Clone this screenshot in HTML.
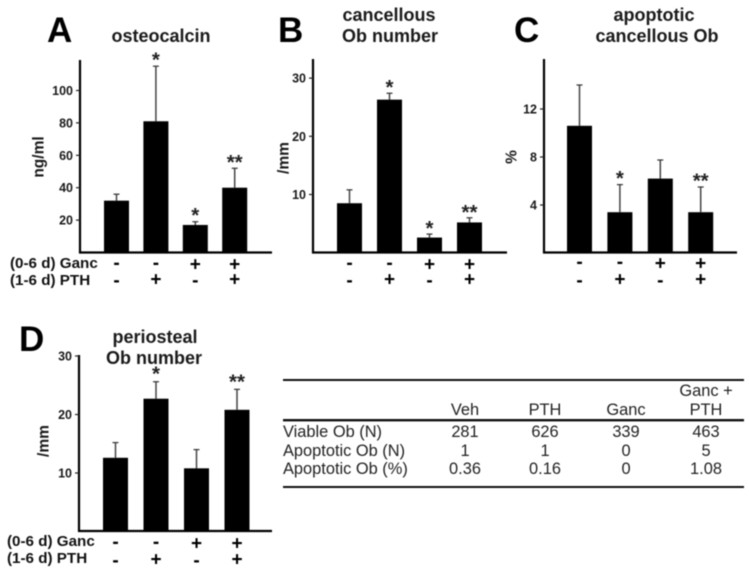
<!DOCTYPE html>
<html lang="en">
<head>
<meta charset="utf-8">
<title>Osteoblast bar charts</title>
<style>
html,body{margin:0;padding:0;background:#fff;width:749px;height:572px;overflow:hidden}
svg{display:block;filter:blur(0.5px)}
text{font-family:"Liberation Sans",Arial,sans-serif;fill:#111}
.letter{font-size:35px;font-weight:bold;fill:#000}
.title{font-size:18px;font-weight:bold;text-anchor:middle;fill:#1a1a1a}
.tick{font-size:12.5px;font-weight:bold;text-anchor:end;fill:#1a1a1a}
.ytitle{font-size:15.5px;font-weight:bold;text-anchor:middle;fill:#1a1a1a}
.group{font-size:15.2px;font-weight:bold;fill:#111}
.sign{font-size:19px;font-weight:bold;text-anchor:middle;fill:#000}
.star{font-size:20.5px;font-weight:bold;text-anchor:middle;fill:#222}
.t{font-size:16.4px;fill:#222;text-anchor:middle}
.tl{font-size:16.4px;fill:#222}
</style>
</head>
<body>
<svg id="figure" width="749" height="572" viewBox="0 0 749 572" xmlns="http://www.w3.org/2000/svg">
  <rect width="749" height="572" fill="#fff"/>

  <text class="letter" x="47" y="42">A</text>
  <text class="letter" x="278" y="42">B</text>
  <text class="letter" x="514" y="42">C</text>
  <text class="letter" x="19" y="351">D</text>

  <text class="title" x="161" y="42">osteocalcin</text>
  <text class="title" x="389" y="21">cancellous</text>
  <text class="title" x="390" y="42">Ob number</text>
  <text class="title" x="654" y="21">apoptotic</text>
  <text class="title" x="657" y="42">cancellous Ob</text>
  <text class="title" x="155" y="343">periosteal</text>
  <text class="title" x="154" y="364">Ob number</text>

  <text class="ytitle" transform="translate(43.5,157) rotate(-90)">ng/ml</text>
  <text class="ytitle" transform="translate(288.5,158) rotate(-90)">/mm</text>
  <text class="ytitle" transform="translate(516.5,157) rotate(-90)">%</text>
  <text class="ytitle" transform="translate(48.5,441) rotate(-90)">/mm</text>

  <text class="group" x="10" y="268">(0-6 d) Ganc</text>
  <text class="group" x="10" y="285">(1-6 d) PTH</text>
  <text class="group" x="7" y="546">(0-6 d) Ganc</text>
  <text class="group" x="7" y="563">(1-6 d) PTH</text>

  <g id="charts"></g>

  <g>
    <rect x="283" y="379" width="461" height="2" fill="#111"/>
    <rect x="283" y="419" width="461" height="2.4" fill="#111"/>
    <rect x="283" y="486" width="461" height="2" fill="#111"/>
    <text class="t" x="706" y="396">Ganc +</text>
    <text class="t" x="465" y="415">Veh</text>
    <text class="t" x="545" y="415">PTH</text>
    <text class="t" x="626" y="415">Ganc</text>
    <text class="t" x="706" y="415">PTH</text>
    <text class="tl" x="283" y="437">Viable Ob (N)</text>
    <text class="t" x="465" y="437">281</text>
    <text class="t" x="545" y="437">626</text>
    <text class="t" x="626" y="437">339</text>
    <text class="t" x="706" y="437">463</text>
    <text class="tl" x="283" y="456">Apoptotic Ob (N)</text>
    <text class="t" x="465" y="456">1</text>
    <text class="t" x="545" y="456">1</text>
    <text class="t" x="626" y="456">0</text>
    <text class="t" x="706" y="456">5</text>
    <text class="tl" x="283" y="474">Apoptotic Ob (%)</text>
    <text class="t" x="465" y="474">0.36</text>
    <text class="t" x="545" y="474">0.16</text>
    <text class="t" x="626" y="474">0</text>
    <text class="t" x="706" y="474">1.08</text>
  </g>
</svg>
<script>
// Shared categories
const gancSigns = ['-', '-', '+', '+'];
const pthSigns = ['-', '+', '-', '+'];

// Panel A: osteocalcin (ng/ml)
const osteocalcinValues = [32, 81, 17, 40];
const osteocalcinErrorTops = [36, 115, 19, 52];
const osteocalcinStars = ['', '*', '*', '**'];
const osteocalcinTicks = [20, 40, 60, 80, 100];

// Panel B: cancellous Ob number (/mm)
const cancellousValues = [8.5, 26.3, 2.6, 5.2];
const cancellousErrorTops = [10.8, 27.4, 3.2, 6];
const cancellousStars = ['', '*', '*', '**'];
const cancellousTicks = [10, 20, 30];

// Panel C: apoptotic cancellous Ob (%)
const apoptoticValues = [10.6, 3.4, 6.2, 3.4];
const apoptoticErrorTops = [14, 5.7, 7.75, 5.5];
const apoptoticStars = ['', '*', '', '**'];
const apoptoticTicks = [4, 8, 12];

// Panel D: periosteal Ob number (/mm)
const periostealValues = [12.6, 22.7, 10.8, 20.8];
const periostealErrorTops = [15.2, 25.6, 14, 24.3];
const periostealStars = ['', '*', '', '**'];
const periostealTicks = [10, 20, 30];

const NS = 'http://www.w3.org/2000/svg';
const root = document.getElementById('charts');

function make(tag, parent, attrs, text) {
  const el = document.createElementNS(NS, tag);
  for (const k in attrs) el.setAttribute(k, attrs[k]);
  if (text !== undefined) el.textContent = text;
  parent.appendChild(el);
  return el;
}

function drawPanel(panel, values, errorTops, stars, ticks, frame) {
  const y = v => frame.zero - v * frame.unit;
  const x = i => frame.first + i * frame.step;

  const g = make('g', root, {});
  
  

  const yAxis = make('line', g, {x1: frame.axis, x2: frame.axis, y1: frame.top, y2: frame.base + 1, stroke: '#000', 'stroke-width': 2.2});
  
  

  const xAxis = make('line', g, {x1: frame.axis - 1, x2: frame.end, y1: frame.base, y2: frame.base, stroke: '#000', 'stroke-width': 2.2});
  
  

  ticks.forEach(t => {
    const mark = make('line', g, {x1: frame.axis - 4, x2: frame.axis, y1: y(t), y2: y(t), stroke: '#222', 'stroke-width': 1.2});
    
    
    const label = make('text', g, {class: 'tick', x: frame.axis - 7, y: y(t) + 4.5}, String(t));
    
    
  });

  values.forEach((v, i) => {
    const stem = make('line', g, {x1: x(i), x2: x(i), y1: y(errorTops[i]), y2: y(v), stroke: '#444', 'stroke-width': 1.5});
    
    
    const cap = make('line', g, {x1: x(i) - 3, x2: x(i) + 3, y1: y(errorTops[i]), y2: y(errorTops[i]), stroke: '#333', 'stroke-width': 1.2});
    
    
    const bar = make('rect', g, {x: x(i) - 12.5, y: y(v), width: 25, height: frame.base - y(v), fill: '#000'});
    
    
    if (stars[i]) {
      const star = make('text', g, {class: 'star', x: x(i), y: y(errorTops[i]) + frame.starShift}, stars[i]);
      
      
    }
    const ganc = make('text', g, {class: 'sign', x: x(i), y: frame.row1 - (gancSigns[i] === '-' ? 1.5 : 0)}, gancSigns[i]);
    
    
    const pth = make('text', g, {class: 'sign', x: x(i), y: frame.row2 + (pthSigns[i] === '-' ? 1 : 0)}, pthSigns[i]);
    
    
  });
}

drawPanel('a', osteocalcinValues, osteocalcinErrorTops, osteocalcinStars, osteocalcinTicks,
  {axis: 80, top: 60, base: 252.5, end: 272, zero: 252.5, unit: 1.62, first: 116.5, step: 39.4, row1: 270.3, row2: 285.6, starShift: 0.5});
drawPanel('b', cancellousValues, cancellousErrorTops, cancellousStars, cancellousTicks,
  {axis: 313, top: 59, base: 252.5, end: 507, zero: 252.7, unit: 5.82, first: 349.5, step: 40, row1: 270.3, row2: 285.6, starShift: 1});
drawPanel('c', apoptoticValues, apoptoticErrorTops, apoptoticStars, apoptoticTicks,
  {axis: 544, top: 59, base: 252.5, end: 737, zero: 253, unit: 12, first: 579.5, step: 40.4, row1: 269.5, row2: 285.3, starShift: 0.5});
drawPanel('d', periostealValues, periostealErrorTops, periostealStars, periostealTicks,
  {axis: 79, top: 355, base: 531, end: 272, zero: 531.5, unit: 5.85, first: 115.5, step: 40.5, row1: 549.3, row2: 565.3, starShift: -1});
</script>
</body>
</html>
